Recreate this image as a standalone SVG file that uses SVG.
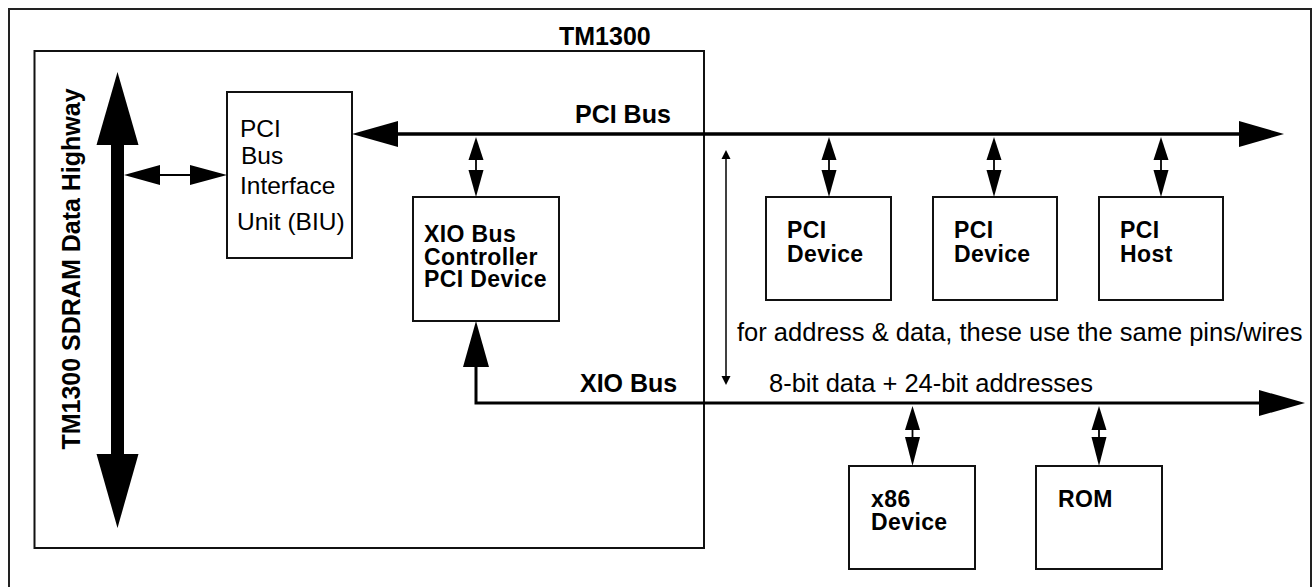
<svg xmlns="http://www.w3.org/2000/svg" width="1314" height="587" viewBox="0 0 1314 587">
<style>
.box{fill:#fff;stroke:#111;stroke-width:2}
.frame{fill:none;stroke:#222;stroke-width:2}
.t{font-family:"Liberation Sans",Arial,sans-serif;font-size:24.5px;fill:#000}
.b{font-family:"Liberation Sans",Arial,sans-serif;font-size:23px;letter-spacing:0.4px;font-weight:bold;fill:#000}
.bus{stroke:#000;stroke-width:3.5;fill:none}
.thin{stroke:#000;stroke-width:1.8;fill:none}
.head{fill:#000;stroke:none}
</style>
<rect class="frame" x="9" y="9" width="1302" height="590"/>
<g id="tm1300">
<rect class="box" x="34.5" y="51" width="669.5" height="497" style="fill:none"/>
<text class="b" x="559" y="45" style="font-size:25px;letter-spacing:0">TM1300</text>
</g>
<g id="sdram-highway">
<rect x="111" y="140" width="13" height="320" fill="#000"/>
<polygon class="head" points="117.5,72 96.5,145 138.5,145"/>
<polygon class="head" points="117.5,528 96.5,454 138.5,454"/>
<text class="b" transform="translate(80,269) rotate(-90)" text-anchor="middle" style="font-size:25px;letter-spacing:0">TM1300 SDRAM Data Highway</text>
</g>
<g id="biu">
<rect class="box" x="227" y="92" width="125" height="166"/>
<text class="t" x="240" y="137">PCI</text>
<text class="t" x="241" y="164">Bus</text>
<text class="t" x="240" y="194">Interface</text>
<text class="t" x="237" y="230">Unit (BIU)</text>
</g>
<g id="xio-controller">
<rect class="box" x="413" y="197" width="146" height="124"/>
<text class="b" x="424" y="242">XIO Bus</text>
<text class="b" x="424" y="265">Controller</text>
<text class="b" x="424" y="287">PCI Device</text>
</g>
<g id="pci-device-1">
<rect class="box" x="766" y="197" width="125" height="103"/>
<text class="b" x="787" y="238">PCI</text>
<text class="b" x="787" y="262">Device</text>
</g>
<g id="pci-device-2">
<rect class="box" x="933" y="197" width="124" height="103"/>
<text class="b" x="954" y="238">PCI</text>
<text class="b" x="954" y="262">Device</text>
</g>
<g id="pci-host">
<rect class="box" x="1099" y="197" width="124" height="103"/>
<text class="b" x="1120" y="238">PCI</text>
<text class="b" x="1120" y="262">Host</text>
</g>
<g id="x86-device">
<rect class="box" x="849" y="466" width="126" height="103"/>
<text class="b" x="871" y="507">x86</text>
<text class="b" x="871" y="530">Device</text>
</g>
<g id="rom">
<rect class="box" x="1036" y="466" width="126" height="103"/>
<text class="b" x="1058" y="507">ROM</text>
</g>
<g id="connectors">
<line class="thin" x1="158" y1="175" x2="192" y2="175"/>
<polygon class="head" points="124,175 160,165 160,185"/>
<polygon class="head" points="227,175 190,165 190,185"/>
<line class="bus" x1="396" y1="134" x2="1242" y2="134"/>
<polygon class="head" points="352,134 398,121 398,147"/>
<polygon class="head" points="1284,134 1239,121 1239,147"/>
<text class="b" x="575" y="123" style="font-size:25px;letter-spacing:0">PCI Bus</text>
<g id="drop-xio">
<line class="thin" x1="476" y1="158" x2="476" y2="172"/>
<polygon class="head" points="476,137 468.5,160 483.5,160"/>
<polygon class="head" points="476,197 468.5,170 483.5,170"/>
</g>
<g id="drop-pci1">
<line class="thin" x1="829" y1="158" x2="829" y2="172"/>
<polygon class="head" points="829,137 821.5,160 836.5,160"/>
<polygon class="head" points="829,197 821.5,170 836.5,170"/>
</g>
<g id="drop-pci2">
<line class="thin" x1="994" y1="158" x2="994" y2="172"/>
<polygon class="head" points="994,137 986.5,160 1001.5,160"/>
<polygon class="head" points="994,197 986.5,170 1001.5,170"/>
</g>
<g id="drop-host">
<line class="thin" x1="1161" y1="158" x2="1161" y2="172"/>
<polygon class="head" points="1161,137 1153.5,160 1168.5,160"/>
<polygon class="head" points="1161,197 1153.5,170 1168.5,170"/>
</g>
<line class="thin" x1="726" y1="157" x2="726" y2="378" style="stroke-width:1.5"/>
<polygon class="head" points="726,150 721.5,159 730.5,159"/>
<polygon class="head" points="726,385 721.5,376 730.5,376"/>
<text class="t" x="737" y="341" style="font-size:25.5px">for address &amp; data, these use the same pins/wires</text>
<polyline class="bus" points="476,365 476,403 1262,403" style="stroke-linejoin:miter;stroke-width:3"/>
<polygon class="head" points="476,321 463,367 489,367"/>
<polygon class="head" points="1305,403 1259,390 1259,416"/>
<text class="b" x="580" y="392" style="font-size:25px;letter-spacing:0">XIO Bus</text>
<text class="t" x="769" y="392" style="font-size:25.5px">8-bit data + 24-bit addresses</text>
<g id="drop-x86">
<line class="thin" x1="912.5" y1="428" x2="912.5" y2="439"/>
<polygon class="head" points="912.5,406 905,430 920,430"/>
<polygon class="head" points="912.5,466 905,437 920,437"/>
</g>
<g id="drop-rom">
<line class="thin" x1="1099" y1="428" x2="1099" y2="439"/>
<polygon class="head" points="1099,406 1091.5,430 1106.5,430"/>
<polygon class="head" points="1099,466 1091.5,437 1106.5,437"/>
</g>
</g>
</svg>
